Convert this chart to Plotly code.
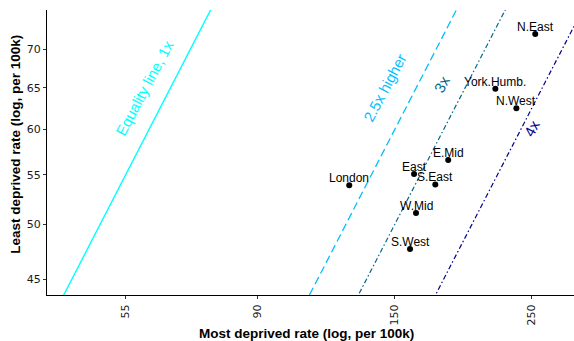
import numpy as np
import plotly.graph_objects as go

# ---- data ----
regions = ["London", "East", "E.Mid", "S.East", "W.Mid", "S.West", "N.East", "York.Humb.", "N.West"]
most_deprived = [126.6, 161.2, 183.1, 174.5, 162.4, 158.8, 253.3, 218.3, 236.1]
least_deprived = [53.9, 55.1, 56.6, 54.0, 51.1, 47.7, 72.1, 64.9, 62.5]

ratios = [1, 2.5, 3, 4]
ratio_labels = ["Equality line, 1x", "2.5x higher", "3x", "4x"]
ratio_colors = ["#00FFFF", "#00BFFF", "#00688B", "#00008B"]
ratio_dash = ["solid", "8px,4px", "5px,2.5px,1.5px,2.5px", "5px,2.5px,1.5px,2.5px"]
ratio_width = [1.4, 1.3, 1.2, 1.2]
label_x = [59.1, 144.7, 178.7, 250.0]
label_y = [65.0, 65.0, 65.4, 60.1]

x_tick_vals = [55, 90, 150, 250]
y_tick_vals = [45, 50, 55, 60, 65, 70]

x_range_log = [1.613, 2.4664]
y_range_log = [1.6401, 1.8779]

fig = go.Figure()

# reference ratio lines y = x / k
xs = np.logspace(x_range_log[0] - 0.1, x_range_log[1] + 0.1, 50)
for k, col, dash, w in zip(ratios, ratio_colors, ratio_dash, ratio_width):
    fig.add_trace(go.Scatter(x=xs, y=xs / k, mode="lines",
                             line=dict(color=col, dash=dash, width=w),
                             hoverinfo="skip", showlegend=False))

fig.add_trace(go.Scatter(x=most_deprived, y=least_deprived, mode="markers",
                         marker=dict(color="black", size=6),
                         text=regions, showlegend=False))

for r, xv, yv in zip(regions, most_deprived, least_deprived):
    fig.add_annotation(x=np.log10(xv), y=np.log10(yv), text=r, showarrow=False,
                       xanchor="center", yanchor="middle", yshift=7,
                       font=dict(family="Liberation Sans, Arial", size=12, color="black"))

for t, xv, yv, col in zip(ratio_labels, label_x, label_y, ratio_colors):
    fig.add_annotation(x=np.log10(xv), y=np.log10(yv), text=t, showarrow=False,
                       textangle=-62, xanchor="center", yanchor="middle",
                       font=dict(family="Liberation Sans, Arial", size=15, color=col))

# axis titles
fig.add_annotation(xref="paper", yref="paper", x=0.493, y=-0.135, yanchor="middle",
                   text="<b>Most deprived rate (log, per 100k)</b>", showarrow=False,
                   font=dict(family="Liberation Sans, Arial", size=13.5, color="black"))
fig.add_annotation(xref="paper", yref="paper", x=-0.059, y=0.53, xanchor="center",
                   textangle=-90,
                   text="<b>Least deprived rate (log, per 100k)</b>", showarrow=False,
                   font=dict(family="Liberation Sans, Arial", size=13.5, color="black"))

fig.update_xaxes(type="log", range=x_range_log, tickvals=x_tick_vals,
                 ticktext=[str(v) for v in x_tick_vals], tickangle=-90,
                 automargin=False, ticklabelstandoff=1,
                 showgrid=False, zeroline=False, showline=True, linecolor="black",
                 linewidth=1.2, ticks="outside", ticklen=3, tickcolor="#333",
                 tickfont=dict(family="DejaVu Sans", size=11, color="#1a1a1a"))
fig.update_yaxes(type="log", range=y_range_log, tickvals=y_tick_vals,
                 ticktext=[str(v) for v in y_tick_vals],
                 automargin=False, ticklabelstandoff=0,
                 showgrid=False, zeroline=False, showline=True, linecolor="black",
                 linewidth=1.2, ticks="outside", ticklen=3, tickcolor="#333",
                 tickfont=dict(family="DejaVu Sans", size=11, color="#1a1a1a"))

fig.update_layout(width=574, height=341, margin=dict(l=47, r=0, t=10, b=46),
                  plot_bgcolor="white", paper_bgcolor="white", showlegend=False)

fig.write_html("out.html", config={"displayModeBar": False},
               post_script="document.body.style.margin='0';document.body.style.overflow='hidden';")
